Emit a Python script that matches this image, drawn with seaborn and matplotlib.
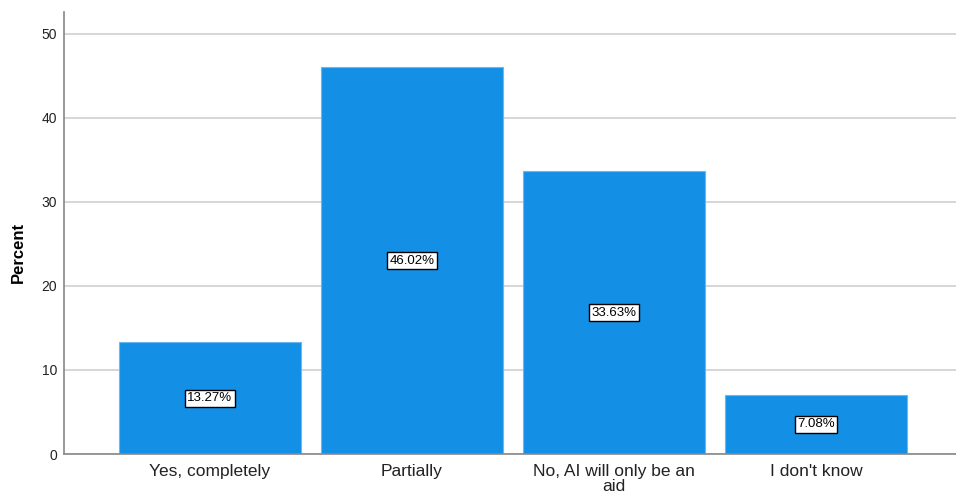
import matplotlib
matplotlib.use("Agg")
import matplotlib.pyplot as plt
import seaborn as sns
import pandas as pd

categories = ["Yes, completely", "Partially", "No, AI will only be an\naid", "I don't know"]
percent = [13.27, 46.02, 33.63, 7.08]
yticks = [0, 10, 20, 30, 40, 50]

df = pd.DataFrame({"category": categories, "percent": percent})

sns.set_style("white")
plt.rcParams["font.family"] = ["Liberation Sans", "DejaVu Sans"]

fig = plt.figure(figsize=(9.56, 4.97), dpi=100)
ax = fig.add_axes([0.0669, 0.0865, 0.9331, 0.8895])

sns.barplot(data=df, x="category", y="percent", color="#1390E6",
            saturation=1, width=0.9, edgecolor="#6BB8F0", linewidth=0.8,
            ax=ax, zorder=2)

ax.set_xlim(-0.723, 3.693)
ax.set_ylim(0, 52.6)
ax.set_yticks(yticks)
ax.yaxis.grid(True, color="#d0d0d0", linewidth=1.2, zorder=0)
ax.set_axisbelow(True)

for s in ["top", "right"]:
    ax.spines[s].set_visible(False)
for s in ["left", "bottom"]:
    ax.spines[s].set_color("#888888")
    ax.spines[s].set_linewidth(1.2)

ax.tick_params(axis="both", length=0)
ax.tick_params(axis="y", labelsize=10, colors="#222222", pad=5)
ax.tick_params(axis="x", labelsize=12.5, colors="#222222", pad=7)
for lbl in ax.get_xticklabels():
    lbl.set_linespacing(1.0)

ax.set_xlabel("")
ax.set_ylabel("Percent", fontsize=12, fontweight="bold", color="black")
ax.yaxis.set_label_coords(-0.043, 0.455)

for i, v in enumerate(percent):
    ax.text(i, v / 2, f"{v:.2f}%", ha="center", va="center", fontsize=9.5,
            color="black", zorder=3,
            bbox=dict(boxstyle="square,pad=0.2", facecolor="white",
                      edgecolor="black", linewidth=1.0))

fig.savefig("out.png", dpi=100)
